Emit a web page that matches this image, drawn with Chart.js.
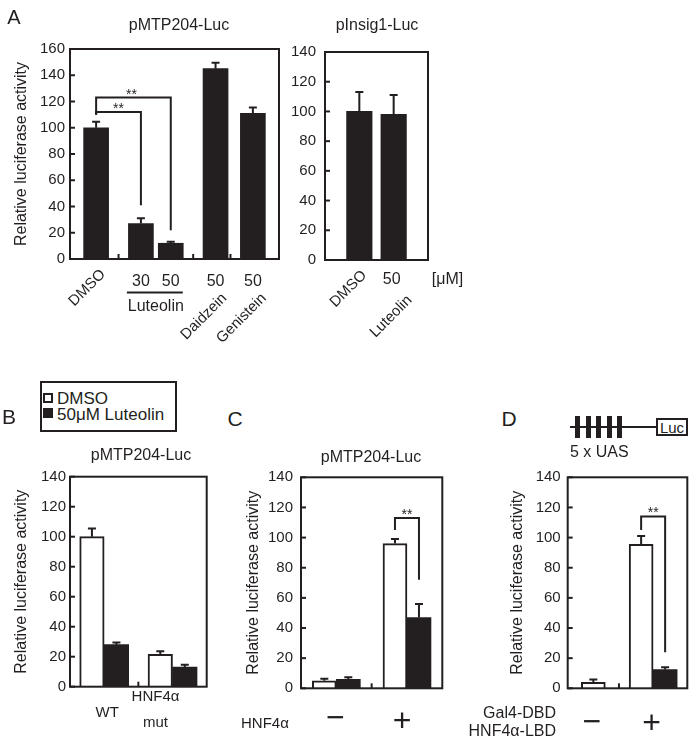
<!DOCTYPE html>
<html>
<head>
<meta charset="utf-8">
<script src="https://cdn.jsdelivr.net/npm/chart.js@4.4.0/dist/chart.umd.min.js"></script>
<style>
body { margin: 0; width: 694px; height: 744px; position: relative; overflow: hidden; background: #fff;
       font-family: "Liberation Sans", Arial, Helvetica, sans-serif; color: #231f20; }
canvas { position: absolute; }
.t { position: absolute; white-space: nowrap; line-height: 1; }
.blk { position: absolute; background: #231f20; }
</style>
</head>
<body>
<canvas id="aLeft" width="282" height="360" style="left:0;top:0"></canvas>
<canvas id="aRight" width="200" height="360" style="left:280px;top:0"></canvas>
<canvas id="panelB" width="228" height="300" style="left:0;top:440px"></canvas>
<canvas id="panelC" width="232" height="300" style="left:228px;top:440px"></canvas>
<canvas id="panelD" width="234" height="300" style="left:460px;top:440px"></canvas>

<div style="position:absolute;left:40px;top:381px;width:133px;height:47px;border:2px solid #231f20"></div>
<div style="position:absolute;left:43px;top:393px;width:6px;height:6px;border:2px solid #231f20"></div>
<div class="blk" style="left:43px;top:408px;width:10px;height:10px"></div>

<div class="blk" style="left:570px;top:426px;width:87px;height:2px"></div>
<div class="blk" style="left:575px;top:416px;width:5px;height:22px"></div>
<div class="blk" style="left:585.6px;top:416px;width:5px;height:22px"></div>
<div class="blk" style="left:596.2px;top:416px;width:5px;height:22px"></div>
<div class="blk" style="left:606.8px;top:416px;width:5px;height:22px"></div>
<div class="blk" style="left:617.4px;top:416px;width:5px;height:22px"></div>
<div style="position:absolute;left:656px;top:418px;width:28px;height:14px;border:2px solid #231f20;background:#fff"></div>

<script>
const ink = '#231f20';
const FONT = '"Liberation Sans", Arial, Helvetica, sans-serif';

// A: pMTP204-Luc  ('' = empty slot, '|' = separator)
const aCats = ['', '', '', 'DMSO', '', '', '|', '', '', 'Luteolin 30', '', '', '', 'Luteolin 50',
               '', '', '|', '', '', 'Daidzein', '', '|', '', '', 'Genistein', '', '', ''];
const aMeans = [100, 27, 12, 145, 111];
const aErrs = [4.5, 4, 1.2, 4.5, 4.5];

// A: pInsig1-Luc
const insCats = ['', 'DMSO', 'Luteolin 50', ''];
const insMeans = [100, 98];
const insErrs = [13, 13];

// B: pMTP204-Luc, WT vs HNF4a mutant
const bCats = ['', 'WT', '|', 'HNF4α mut', ''];
const bDmso = [100, 21.5];
const bDmsoErr = [5.5, 2.2];
const bLut = [28, 13];
const bLutErr = [1.5, 1.7];

// C: HNF4a -/+
const cCats = ['', '−', '|', '+', ''];
const cDmso = [5, 96];
const cDmsoErr = [1.3, 3];
const cLut = [6, 47];
const cLutErr = [1.3, 9];

// D: Gal4-DBD / HNF4a-LBD -/+
const dCats = ['', '', '', '−', '', '', '|', '', '', '', '+', '', '', '', ''];
const dDmso = [4, 95.5];
const dDmsoErr = [1.8, 5.5];
const dLut = [null, 12.5];
const dLutErr = [0, 1.5];

// put values into the slots that carry a name
function spread(cats, vals) {
    const names = cats.filter(c => c && c !== '|');
    return cats.map(c => {
        const i = names.indexOf(c);
        return i < 0 ? null : vals[i];
    });
}

function label(text, x, y, size, align) {
    const d = document.createElement('div');
    d.className = 't';
    d.textContent = text;
    const tx = align === 'left' ? '0' : align === 'right' ? '-100%' : '-50%';
    d.style.cssText = `left:${x}px;top:${y}px;font-size:${size}px;transform:translate(${tx},-50%)`;
    document.body.appendChild(d);
}

function rotText(ctx, s, px, py) {
    ctx.save();
    ctx.translate(px, py);
    ctx.rotate(-Math.PI / 4);
    ctx.textAlign = 'right';
    ctx.textBaseline = 'middle';
    ctx.fillText(s, 0, 0);
    ctx.restore();
}

function figPlugin(extra) {
    return {
        id: 'fig',
        afterDatasetsDraw(chart) {
            const ctx = chart.ctx, area = chart.chartArea;
            const x = chart.scales.x, y = chart.scales.y;
            ctx.save();
            ctx.strokeStyle = ink;
            ctx.fillStyle = ink;
            ctx.lineWidth = 2;

            // error bars
            chart.data.datasets.forEach((ds, di) => {
                const meta = chart.getDatasetMeta(di);
                ds.data.forEach((v, i) => {
                    if (v == null || !ds.errors[i]) return;
                    const bx = meta.data[i].x;
                    const top = y.getPixelForValue(v);
                    const end = y.getPixelForValue(v + ds.errors[i]);
                    ctx.beginPath();
                    ctx.moveTo(bx, top);
                    ctx.lineTo(bx, end);
                    ctx.moveTo(bx - 4, end);
                    ctx.lineTo(bx + 4, end);
                    ctx.stroke();
                });
            });

            // box and inward ticks
            ctx.strokeRect(area.left, area.top, area.width, area.height);
            y.ticks.forEach(t => {
                const py = y.getPixelForValue(t.value);
                ctx.beginPath();
                ctx.moveTo(area.left, py);
                ctx.lineTo(area.left + 5, py);
                ctx.stroke();
            });
            extra.cats.forEach((c, i) => {
                if (c !== '|') return;
                const px = x.getPixelForValue(i);
                ctx.beginPath();
                ctx.moveTo(px, area.bottom);
                ctx.lineTo(px, area.bottom - 5);
                ctx.stroke();
            });

            // significance brackets
            (extra.brackets || []).forEach(b => {
                const xa = chart.getDatasetMeta(b.a[1]).data[extra.cats.indexOf(b.a[0])].x;
                const xb = chart.getDatasetMeta(b.b[1]).data[extra.cats.indexOf(b.b[0])].x;
                const yt = y.getPixelForValue(b.top);
                ctx.beginPath();
                ctx.moveTo(xa, y.getPixelForValue(b.lowA));
                ctx.lineTo(xa, yt);
                ctx.lineTo(xb, yt);
                ctx.lineTo(xb, y.getPixelForValue(b.lowB));
                ctx.stroke();
                ctx.font = `14px ${FONT}`;
                ctx.textAlign = 'center';
                ctx.textBaseline = 'alphabetic';
                ctx.fillText('**', (xa + xb) / 2 + (b.dx || 0), yt + 1);
            });

            if (extra.draw) {
                const cx = n => x.getPixelForValue(extra.cats.indexOf(n));
                extra.draw(ctx, cx);
            }
            ctx.restore();
        }
    };
}

function makeChart(id, o) {
    const datasets = o.series.map(s => ({
        data: spread(o.cats, s.vals),
        errors: spread(o.cats, s.errs),
        backgroundColor: s.white ? '#fff' : ink,
        borderColor: ink,
        borderWidth: s.white ? 2 : 0,
        barThickness: o.thick,
        skipNull: true
    }));
    new Chart(document.getElementById(id), {
        type: 'bar',
        data: { labels: o.cats, datasets: datasets },
        options: {
            responsive: false,
            animation: false,
            events: [],
            layout: { padding: { left: 0, top: o.pad[0], right: o.pad[1], bottom: o.pad[2] } },
            plugins: { legend: { display: false }, tooltip: { enabled: false } },
            scales: {
                x: { type: 'category', display: false, offset: o.offset },
                y: {
                    min: 0, max: o.yMax,
                    ticks: { stepSize: 20, padding: o.tickPad, color: ink, font: { family: FONT, size: 15 } },
                    grid: { display: false, drawTicks: false },
                    border: { display: false },
                    title: {
                        display: o.titlePad != null,
                        text: 'Relative luciferase activity',
                        color: ink,
                        font: { family: FONT, size: 16 },
                        padding: { top: o.titlePad || 0, bottom: 0 }
                    },
                    afterFit: s => { s.width = o.axisW; }
                }
            }
        },
        plugins: [figPlugin(o)]
    });
}

// ---- A left ----
makeChart('aLeft', {
    cats: aCats, offset: true, yMax: 160, thick: 25,
    series: [{ vals: aMeans, errs: aErrs }],
    axisW: 70, titlePad: 11.9, tickPad: 5, pad: [49, 3, 101],
    brackets: [
        { a: ['DMSO', 0], b: ['Luteolin 50', 0], top: 123, lowA: 110, lowB: 22, dx: -2 },
        { a: ['DMSO', 0], b: ['Luteolin 30', 0], top: 112, lowA: 110, lowB: 41 }
    ],
    draw(ctx, cx) {
        ctx.font = `15px ${FONT}`;
        rotText(ctx, 'DMSO', cx('DMSO') + 7, 272);
        rotText(ctx, 'Daidzein', cx('Daidzein') + 9, 296);
        rotText(ctx, 'Genistein', cx('Genistein') + 11, 296);
        ctx.font = `16px ${FONT}`;
        ctx.textAlign = 'center';
        ctx.textBaseline = 'middle';
        ['Luteolin 30', 'Luteolin 50', 'Daidzein', 'Genistein'].forEach(n => {
            ctx.fillText(n.includes('30') ? '30' : '50', cx(n), 281.5);
        });
        ctx.fillRect(cx('Luteolin 30') - 14, 291.5, cx('Luteolin 50') - cx('Luteolin 30') + 26, 2);
        ctx.fillText('Luteolin', (cx('Luteolin 30') + cx('Luteolin 50')) / 2, 306.5);
    }
});

// ---- A right ----
makeChart('aRight', {
    cats: insCats, offset: false, yMax: 140, thick: 25.5,
    series: [{ vals: insMeans, errs: insErrs }],
    axisW: 45, titlePad: null, tickPad: 9, pad: [52, 52, 100],
    draw(ctx, cx) {
        ctx.font = `15px ${FONT}`;
        rotText(ctx, 'DMSO', cx('DMSO') + 5, 273);
        rotText(ctx, 'Luteolin', cx('Luteolin 50') + 16, 298);
        ctx.font = `16px ${FONT}`;
        ctx.textAlign = 'center';
        ctx.textBaseline = 'middle';
        ctx.fillText('50', cx('Luteolin 50') - 2, 279.5);
    }
});

// ---- B ----
makeChart('panelB', {
    cats: bCats, offset: false, yMax: 140, thick: 24.5,
    series: [{ vals: bDmso, errs: bDmsoErr, white: true }, { vals: bLut, errs: bLutErr }],
    axisW: 70, titlePad: 11.9, tickPad: 4, pad: [36.7, 21.3, 53.3],
    draw(ctx, cx) {
        ctx.font = `15px ${FONT}`;
        ctx.textAlign = 'center';
        ctx.textBaseline = 'middle';
        ctx.fillText('WT', cx('WT') + 3, 273);
        ctx.fillText('HNF4α', cx('HNF4α mut') - 17, 257);
        ctx.fillText('mut', cx('HNF4α mut') - 17, 283);
    }
});

// ---- C ----
makeChart('panelC', {
    cats: cCats, offset: false, yMax: 140, thick: 24,
    series: [{ vals: cDmso, errs: cDmsoErr, white: true }, { vals: cLut, errs: cLutErr }],
    axisW: 73, titlePad: 16.4, tickPad: 8, pad: [37.3, 17.7, 51.7],
    brackets: [{ a: ['+', 0], b: ['+', 1], top: 113, lowA: 105, lowB: 72 }],
    draw(ctx, cx) {
        ctx.font = `32px ${FONT}`;
        ctx.textAlign = 'center';
        ctx.textBaseline = 'middle';
        ctx.fillText('−', cx('−') - 1, 279);
        ctx.fillText('+', cx('+') - 5, 282);
    }
});

// ---- D ----
makeChart('panelD', {
    cats: dCats, offset: false, yMax: 140, thick: 24,
    series: [{ vals: dDmso, errs: dDmsoErr, white: true }, { vals: dLut, errs: dLutErr }],
    axisW: 107.7, titlePad: 48.4, tickPad: 7, pad: [37.3, 6.7, 51.7],
    brackets: [{ a: ['+', 0], b: ['+', 1], top: 114, lowA: 105, lowB: 24 }],
    draw(ctx, cx) {
        ctx.font = `32px ${FONT}`;
        ctx.textAlign = 'center';
        ctx.textBaseline = 'middle';
        ctx.fillText('−', cx('−') - 1.5, 283);
        ctx.fillText('+', cx('+') - 1.5, 284);
    }
});

// panel letters, titles and other labels
label('A', 14, 17, 20);
label('B', 9, 416, 21);
label('C', 235, 418, 21);
label('D', 509, 418, 21);
label('pMTP204-Luc', 179, 25, 16);
label('pInsig1-Luc', 377, 25, 16);
label('[μM]', 447.5, 279, 16);
label('pMTP204-Luc', 141, 455, 16);
label('pMTP204-Luc', 371, 457, 16);
label('DMSO', 57, 397.5, 17, 'left');
label('50μM Luteolin', 57, 414, 17, 'left');
label('5 x UAS', 570, 452, 16, 'left');
label('Luc', 672, 427, 15);
label('HNF4α', 241, 722, 15, 'left');
label('Gal4-DBD', 556, 713, 16, 'right');
label('HNF4α-LBD', 556, 731, 16, 'right');
</script>
</body>
</html>
